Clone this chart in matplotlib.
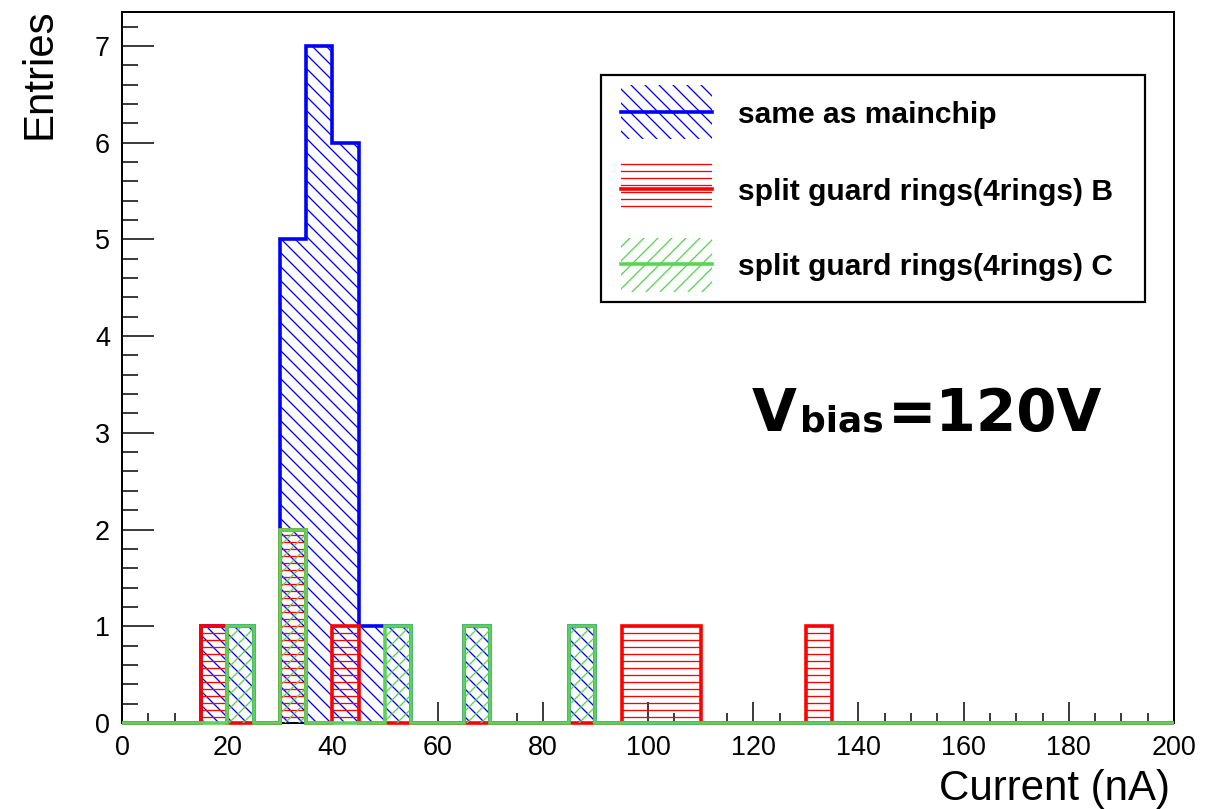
import numpy as np
import matplotlib
matplotlib.use("Agg")
import matplotlib.pyplot as plt
from matplotlib.patches import Rectangle
from matplotlib.lines import Line2D

# ---------------- data ----------------
bin_width = 5
x_min, x_max = 0, 200
# counts per 5 nA bin, bins [0,5), [5,10), ... [195,200)
same_as_mainchip = [0, 0, 0, 1, 1, 0, 5, 7, 6, 1,
                    1, 0, 0, 1, 0, 0, 0, 1, 0, 0,
                    0, 0, 0, 0, 0, 0, 0, 0, 0, 0,
                    0, 0, 0, 0, 0, 0, 0, 0, 0, 0]
split_rings_B = [0, 0, 0, 1, 0, 0, 2, 0, 1, 0,
                 0, 0, 0, 0, 0, 0, 0, 0, 0, 1,
                 1, 1, 0, 0, 0, 0, 1, 0, 0, 0,
                 0, 0, 0, 0, 0, 0, 0, 0, 0, 0]
split_rings_C = [0, 0, 0, 0, 1, 0, 2, 0, 0, 0,
                 1, 0, 0, 1, 0, 0, 0, 1, 0, 0,
                 0, 0, 0, 0, 0, 0, 0, 0, 0, 0,
                 0, 0, 0, 0, 0, 0, 0, 0, 0, 0]
labels = ["same as mainchip", "split guard rings(4rings) B", "split guard rings(4rings) C"]
xticks = [0, 20, 40, 60, 80, 100, 120, 140, 160, 180, 200]
yticks = [0, 1, 2, 3, 4, 5, 6, 7]

# ---------------- style ----------------
W, H, DPI = 1221, 809, 126
def fx(x): return x / W
def fy(y): return 1 - y / H
def pt(px): return px * 72 / DPI

BLUE = "#0000ff"
RED = "#ff0000"
GREEN = "#59d454"
colors = [BLUE, RED, GREEN]
hatches = ["\\\\\\", "---", "///"]
series = [same_as_mainchip, split_rings_B, split_rings_C]

plt.rcParams["font.family"] = ["Liberation Sans", "DejaVu Sans"]
plt.rcParams["hatch.linewidth"] = pt(1.3)

fig = plt.figure(figsize=(W / DPI, H / DPI), dpi=DPI)
fig.patch.set_facecolor("white")
ax = fig.add_axes([fx(122), fy(723), (1174 - 122) / W, (723 - 12) / H])

n_bins = len(same_as_mainchip)
edges = x_min + bin_width * np.arange(n_bins + 1)

for i, (vals, c, h) in enumerate(zip(series, colors, hatches)):
    z = 3 + i * 0.2
    ax.stairs(vals, edges, baseline=0, fill=True, facecolor="none",
              edgecolor=c, hatch=h, linewidth=0, zorder=z)
    ax.stairs(vals, edges, baseline=0, fill=False, color=c,
              linewidth=pt(3.6), zorder=z + 0.1, clip_on=False)

ax.set_xlim(x_min, x_max)
ax.set_ylim(0, max(same_as_mainchip) * 1.05)
ax.set_xticks(xticks)
ax.set_xticks(np.arange(x_min, x_max + 1, 5), minor=True)
ax.set_yticks(yticks)
ax.set_yticks(np.arange(0, 7.3, 0.2), minor=True)
ax.set_xticklabels([str(t) for t in xticks])
ax.set_yticklabels([str(t) for t in yticks])

for s in ax.spines.values():
    s.set_linewidth(pt(2))
    s.set_zorder(2.5)

ax.tick_params(axis="x", which="major", direction="in", length=pt(21), width=pt(1.5),
               labelsize=pt(27), pad=pt(12))
ax.tick_params(axis="x", which="minor", direction="in", length=pt(10.5), width=pt(1.5))
ax.tick_params(axis="y", which="major", direction="in", length=pt(31.5), width=pt(1.5),
               labelsize=pt(27), pad=pt(12))
ax.tick_params(axis="y", which="minor", direction="in", length=pt(15.5), width=pt(1.5))

# axis titles
fig.text(fx(40), fy(8), "Entries", rotation=90, ha="center", va="top", fontsize=pt(42))
fig.text(fx(1170), fy(800), "Current (nA)", ha="right", va="baseline", fontsize=pt(42))

# ---------------- legend (drawn by hand, ROOT style) ----------------
lx0, ly0, lx1, ly1 = 601, 75, 1145, 302
fig.add_artist(Rectangle((fx(lx0), fy(ly1)), (lx1 - lx0) / W, (ly1 - ly0) / H,
                         transform=fig.transFigure, facecolor="white",
                         edgecolor="black", linewidth=pt(2.2), zorder=10))
rows = [(85, 139, 112), (162, 212, 189), (238, 292, 264)]
for (t, b, mid), c, h, lab in zip(rows, colors, hatches, labels):
    fig.add_artist(Rectangle((fx(621), fy(b)), (712 - 621) / W, (b - t) / H,
                             transform=fig.transFigure, facecolor="none",
                             edgecolor=c, hatch=h, linewidth=0, zorder=11))
    fig.add_artist(Line2D([fx(621), fx(712)], [fy(mid), fy(mid)],
                          transform=fig.transFigure, color=c,
                          linewidth=pt(3.6), zorder=12))
    fig.text(fx(738), fy(mid), lab, ha="left", va="center_baseline",
             fontsize=pt(30), fontweight="bold", zorder=12)

# ---------------- V_bias label ----------------
vfont = ["DejaVu Sans"]
fig.text(fx(752), fy(431), "V", ha="left", va="baseline", fontsize=pt(58),
         fontweight="bold", family=vfont)
fig.text(fx(800), fy(432), "bias", ha="left", va="baseline", fontsize=pt(36),
         fontweight="bold", family=vfont)
fig.text(fx(888), fy(431), "=120V", ha="left", va="baseline", fontsize=pt(58),
         fontweight="bold", family=vfont)

fig.savefig("out.png", dpi=DPI)
